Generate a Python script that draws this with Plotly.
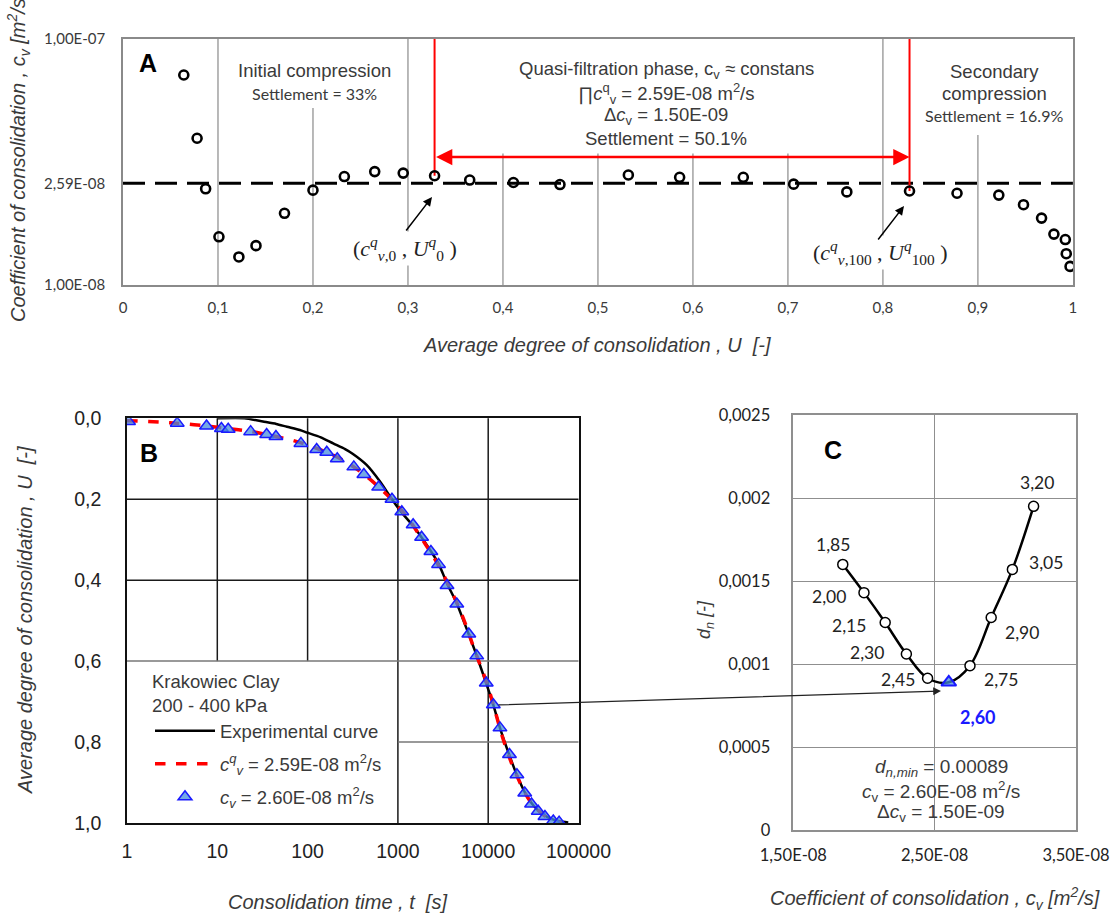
import math
import plotly.graph_objects as go

# ---------------- data ----------------
# Panel A: coefficient of consolidation vs average degree of consolidation
U_a = [0.064, 0.078, 0.087, 0.101, 0.122, 0.140, 0.170, 0.200, 0.233, 0.265, 0.295,
       0.328, 0.365, 0.411, 0.460, 0.532, 0.586, 0.653, 0.706, 0.762, 0.828, 0.878,
       0.922, 0.948, 0.967, 0.980, 0.992, 0.993, 0.997]
cv_a = [7.14e-8, 3.95e-8, 2.46e-8, 1.57e-8, 1.30e-8, 1.445e-8, 1.956e-8, 2.43e-8, 2.76e-8,
        2.89e-8, 2.85e-8, 2.78e-8, 2.67e-8, 2.61e-8, 2.56e-8, 2.80e-8, 2.74e-8, 2.74e-8,
        2.57e-8, 2.39e-8, 2.41e-8, 2.36e-8, 2.32e-8, 2.12e-8, 1.87e-8, 1.61e-8, 1.53e-8,
        1.34e-8, 1.19e-8]
cv_q = 2.59e-8
idx_q0 = 11     # (c_v,0 ; U_0)
idx_q100 = 20   # (c_v,100 ; U_100)
a_xticks = [0, 0.1, 0.2, 0.3, 0.4, 0.5, 0.6, 0.7, 0.8, 0.9, 1]
a_xticklabels = ["0", "0,1", "0,2", "0,3", "0,4", "0,5", "0,6", "0,7", "0,8", "0,9", "1"]
a_yticks = [1e-8, 2.59e-8, 1e-7]
a_yticklabels = ["1,00E-08", "2,59E-08", "1,00E-07"]

# Panel B: consolidation curves
t_exp = [10, 20, 32, 45, 59, 82, 98, 140, 192, 260, 318, 450, 634, 860, 1100, 1500,
         2000, 2800, 3500, 4500, 6000, 7500, 9500, 11400, 13500, 17000, 21000, 26000,
         32000, 40000, 50000, 62000, 77000]
U_exp = [0.0, 0.0, 0.008, 0.014, 0.021, 0.029, 0.035, 0.047, 0.062, 0.076, 0.088, 0.115,
         0.156, 0.200, 0.233, 0.268, 0.307, 0.358, 0.408, 0.458, 0.530, 0.588, 0.655, 0.708,
         0.765, 0.830, 0.884, 0.928, 0.958, 0.978, 0.990, 0.996, 0.999]
t_theo = [1, 3, 10, 30, 100, 300, 1000, 2000, 3000, 5000, 7000, 10000, 15000, 20000,
          30000, 50000, 65000]
U_theo = [0.006, 0.011, 0.022, 0.037, 0.066, 0.115, 0.217, 0.31, 0.375, 0.48, 0.57, 0.665,
          0.80, 0.875, 0.95, 0.993, 0.999]
t_tri = [1.04, 3.6, 7.6, 11.1, 13.2, 23.4, 35.2, 44.6, 84.3, 126, 163, 213, 325, 420, 612,
         860, 1105, 1475, 1830, 2320, 2820, 3500, 4490, 6100, 7470, 9520, 11400, 13500,
         17200, 20800, 25400, 30200, 35800, 42500, 52600, 61000]
U_tri = [0.008, 0.012, 0.019, 0.025, 0.027, 0.033, 0.040, 0.045, 0.062, 0.077, 0.084, 0.100,
         0.120, 0.139, 0.170, 0.200, 0.231, 0.263, 0.294, 0.329, 0.361, 0.413, 0.459, 0.533,
         0.587, 0.654, 0.708, 0.765, 0.831, 0.881, 0.926, 0.953, 0.971, 0.984, 0.995, 0.998]
b_xticks = [1, 10, 100, 1000, 10000, 100000]
b_xticklabels = ["1", "10", "100", "1000", "10000", "100000"]
b_yticks = [0, 0.2, 0.4, 0.6, 0.8, 1.0]
b_yticklabels = ["0,0", "0,2", "0,4", "0,6", "0,8", "1,0"]

# Panel C: d_n vs c_v
cv_c = [1.85, 2.00, 2.15, 2.30, 2.45, 2.60, 2.75, 2.90, 3.05, 3.20]   # x 1E-08 m2/s
dn_c = [0.00160, 0.00143, 0.00125, 0.00106, 0.000914, 0.00089, 0.00099, 0.00128,
        0.00157, 0.00195]
cv_c_labels = ["1,85", "2,00", "2,15", "2,30", "2,45", "2,60", "2,75", "2,90", "3,05", "3,20"]
best_idx = 5
c_xticks = [1.5e-8, 2.5e-8, 3.5e-8]
c_xticklabels = ["1,50E-08", "2,50E-08", "3,50E-08"]
c_yticks = [0, 0.0005, 0.001, 0.0015, 0.002, 0.0025]
c_yticklabels = ["0", "0,0005", "0,001", "0,0015", "0,002", "0,0025"]

# label offsets (pixels) for panel C labels
c_lab_dx = [-10, -35, -36, -39, -30, 29, 31, 31, 34, 3]
c_lab_dy = [-20, 4, 3, -2, 1, 35, 14, 15, -7, -24]

# ---------------- layout helpers ----------------
W, H = 1111, 913
def px(x):
    return x / W
def py(y):
    return 1 - y / H

ARIAL = "Liberation Sans, Arial, sans-serif"
CALI = "Lato, Liberation Sans, sans-serif"
SERIF = "Liberation Serif, Times New Roman, serif"
TXT = "#3a3a3a"

def ptext(text, x, y, size, family=ARIAL, color=TXT, **kw):
    d = dict(text=text, x=px(x), y=py(y), xref="paper", yref="paper", showarrow=False,
             xanchor="center", yanchor="middle",
             font=dict(family=family, size=size, color=color))
    d.update(kw)
    return d

fig = go.Figure()

# ---------- Panel A ----------
fig.add_trace(go.Scatter(x=[0, 1], y=[cv_q, cv_q], mode="lines", xaxis="x", yaxis="y",
                         line=dict(color="black", width=3, dash="22px,10px"),
                         showlegend=False, hoverinfo="skip"))
for i in (idx_q0, idx_q100):
    fig.add_trace(go.Scatter(x=[U_a[i], U_a[i]], y=[cv_a[i], 1e-7], mode="lines",
                             xaxis="x", yaxis="y", line=dict(color="#ff0000", width=2),
                             showlegend=False, hoverinfo="skip"))
fig.add_trace(go.Scatter(x=U_a, y=cv_a, mode="markers", xaxis="x", yaxis="y",
                         marker=dict(symbol="circle-open", size=9, color="black",
                                     line=dict(width=2.6, color="black")),
                         showlegend=False))

# ---------- Panel B ----------
fig.add_trace(go.Scatter(x=t_exp, y=U_exp, mode="lines", xaxis="x2", yaxis="y2",
                         name="Experimental curve", legendgroup="g1",
                         line=dict(color="black", width=2.5, shape="spline", smoothing=0.6)))
fig.add_trace(go.Scatter(x=t_theo, y=U_theo, mode="lines", xaxis="x2", yaxis="y2",
                         name="<i>c</i><sup><i>q</i></sup><sub><i>v</i></sub> = 2.59E-08 m<sup>2</sup>/s",
                         legendgroup="g2", line=dict(color="#ff0000", width=3.5, dash="dash",
                                                     shape="spline")))
fig.add_trace(go.Scatter(x=t_tri, y=U_tri, mode="markers", xaxis="x2", yaxis="y2",
                         name="<i>c</i><sub><i>v</i></sub> = 2.60E-08 m<sup>2</sup>/s",
                         legendgroup="g3",
                         marker=dict(symbol="triangle-up", size=12, color="rgba(70,140,220,0.75)",
                                     line=dict(color="#1a1aff", width=1.5))))

# ---------- Panel C ----------
cv_c_abs = [v * 1e-8 for v in cv_c]
fig.add_trace(go.Scatter(x=cv_c_abs, y=dn_c, mode="lines", xaxis="x3", yaxis="y3",
                         line=dict(color="black", width=2.5, shape="spline", smoothing=1),
                         showlegend=False, hoverinfo="skip"))
circ_x = [v for i, v in enumerate(cv_c_abs) if i != best_idx]
circ_y = [v for i, v in enumerate(dn_c) if i != best_idx]
fig.add_trace(go.Scatter(x=circ_x, y=circ_y, mode="markers", xaxis="x3", yaxis="y3",
                         marker=dict(symbol="circle", size=10, color="white",
                                     line=dict(color="black", width=1.5)),
                         showlegend=False))
fig.add_trace(go.Scatter(x=[cv_c_abs[best_idx]], y=[dn_c[best_idx]], mode="markers",
                         xaxis="x3", yaxis="y3",
                         marker=dict(symbol="triangle-up", size=13, color="rgba(70,140,220,0.75)",
                                     line=dict(color="#1a1aff", width=2)),
                         showlegend=False))

shapes = []
# Panel A vertical grid lines (partially hidden behind text blocks)
grid_top_a = {0.2: 0.72, 0.4: 0.535, 0.5: 0.535, 0.6: 0.535, 0.7: 0.535, 0.9: 0.61}
for u in a_xticks[1:-1]:
    shapes.append(dict(type="line", xref="x", yref="y domain", x0=u, x1=u, y0=0,
                       y1=grid_top_a.get(u, 1), line=dict(color="#8a8a8a", width=1.2),
                       layer="below"))
# Panel B grid lines (legend area left clear)
for t in b_xticks[1:-1]:
    f = math.log10(t) / 5
    y0 = 0.4 if t < 1000 else 0
    shapes.append(dict(type="line", xref="x2 domain", yref="y2 domain", x0=f, x1=f,
                       y0=y0, y1=1, line=dict(color="#1a1a1a", width=1.5), layer="below"))
for u in b_yticks[1:-1]:
    f = 1 - u
    x0 = 0.6 if u > 0.6 else 0
    col = "#1a1a1a" if u < 0.6 else "#777777"
    shapes.append(dict(type="line", xref="x2 domain", yref="y2 domain", x0=x0, x1=1,
                       y0=f, y1=f, line=dict(color=col, width=1.5), layer="below"))

ann = []
# panel letters
for letter, (lx, ly) in {"A": (148, 63), "B": (149, 453), "C": (833, 450)}.items():
    ann.append(ptext("<b>%s</b>" % letter, lx, ly, 25, color="black"))

# Panel A texts
ann.append(ptext("Initial compression", 314, 71, 18.5))
ann.append(ptext("Settlement = 33%", 314, 94, 16, family=CALI))
quasi = ["Quasi-filtration phase, c<sub>v</sub> \u2248 constans",
         "<i>\u220f</i><i>c</i><sup>q</sup><sub>v</sub> = 2.59E-08 m<sup>2</sup>/s",
         "\u0394<i>c</i><sub>v</sub> = 1.50E-09",
         "Settlement = 50.1%"]
for k, line in enumerate(quasi):
    ann.append(ptext(line, 666, [70, 94, 116, 138][k], 18.5))
ann.append(ptext("Secondary", 995, 72, 18.5))
ann.append(ptext("compression", 995, 93, 18.5))
ann.append(ptext("Settlement = 16.9%", 994, 115, 16, family=CALI))
# red double arrow
ann.append(dict(text="", x=U_a[idx_q100], y=py(157), xref="x", yref="paper",
                ax=U_a[idx_q0], ay=0, axref="x", ayref="pixel",
                showarrow=True, arrowside="end+start", arrowhead=2, arrowsize=1.3,
                arrowwidth=2.5, arrowcolor="#ff0000", standoff=0, startstandoff=0))
# math labels with arrows
ann.append(ptext("(<i>c</i><sup><i>q</i></sup><sub><i>v</i>,0</sub> , <i>U</i><sup><i>q</i></sup><sub>0</sub> )",
                 405, 249, 22, family=SERIF, color="#222", bgcolor="white"))
ann.append(ptext("(<i>c</i><sup><i>q</i></sup><sub><i>v</i>,100</sub> , <i>U</i><sup><i>q</i></sup><sub>100</sub> )",
                 880, 252, 22, family=SERIF, color="#222", bgcolor="white"))
ann.append(dict(text="", x=px(432), y=py(197), xref="paper", yref="paper", ax=-27, ay=35,
                showarrow=True, arrowhead=2, arrowsize=1.2, arrowwidth=1.5, arrowcolor="black"))
ann.append(dict(text="", x=px(904), y=py(206), xref="paper", yref="paper", ax=-27, ay=35,
                showarrow=True, arrowhead=2, arrowsize=1.2, arrowwidth=1.5, arrowcolor="black"))

# Panel C texts
for i, lab in enumerate(cv_c_labels):
    if i == best_idx:
        f = dict(family=CALI, size=18, color="#1a1aff")
        lab = "<b>%s</b>" % lab
    else:
        f = dict(family=CALI, size=17.5, color="#222")
    ann.append(dict(text=lab, x=cv_c_abs[i], y=dn_c[i], xref="x3", yref="y3",
                    xanchor="center", yanchor="middle",
                    xshift=c_lab_dx[i], yshift=-c_lab_dy[i], showarrow=False, font=f))
cinfo = ["<i>d</i><sub><i>n,min</i></sub> = 0.00089",
         "<i>c</i><sub>v</sub> = 2.60E-08 m<sup>2</sup>/s",
         "\u0394<i>c</i><sub>v</sub> = 1.50E-09"]
for k, line in enumerate(cinfo):
    ann.append(ptext(line, 941, [768, 791, 813][k], 19))

# arrow B -> C
ann.append(dict(text="", x=px(941), y=py(691), xref="paper", yref="paper",
                ax=497 - 941, ay=705 - 691,
                showarrow=True, arrowhead=2, arrowsize=1.3, arrowwidth=1.2, arrowcolor="#222",
                standoff=0))

# axis titles
ann.append(ptext("<i>Coefficient of consolidation , c<sub>v</sub> [m<sup>2</sup>/s]</i>",
                 19, 157, 20, textangle=-90))
ann.append(ptext("<i>Average degree of consolidation , U  [-]</i>", 597, 345, 20))
ann.append(ptext("<i>Average degree of consolidation , U  [-]</i>", 25, 620, 20, textangle=-90))
ann.append(ptext("<i>Consolidation time , t  [s]</i>", 337, 902, 20))
ann.append(ptext("<i>Coefficient of consolidation , c<sub>v</sub> [m<sup>2</sup>/s]</i>",
                 935, 898, 20))
ann.append(ptext("<i>d<sub>n</sub> [-]</i>", 705, 620, 18, textangle=-90))

fig.update_layout(
    width=W, height=H, margin=dict(l=0, r=0, t=0, b=0, autoexpand=False),
    paper_bgcolor="white", plot_bgcolor="white",
    separators=",.",
    shapes=shapes, annotations=ann,
    legend=dict(x=px(150), y=py(664), xanchor="left", yanchor="top",
                bgcolor="rgba(255,255,255,0)", traceorder="grouped", tracegroupgap=6,
                itemwidth=60,
                title=dict(text="Krakowiec Clay<br>200 - 400 kPa",
                           font=dict(family=ARIAL, size=18.5, color=TXT)),
                font=dict(family=ARIAL, size=18.5, color=TXT)),
    xaxis=dict(domain=[px(123), px(1073)], range=[0, 1.0001], anchor="y", automargin=False,
               tickvals=a_xticks, ticktext=a_xticklabels, showgrid=False, zeroline=False,
               showline=True, linecolor="#8a8a8a", linewidth=1.5, mirror=True,
               ticks="", ticklabelstandoff=8, tickfont=dict(family=CALI, size=15, color=TXT)),
    yaxis=dict(domain=[py(285), py(39)], type="log", range=[-8.0001, -6.9999], anchor="x",
               automargin=False,
               tickvals=a_yticks, ticktext=a_yticklabels, showgrid=False, zeroline=False,
               showline=True, linecolor="#8a8a8a", linewidth=1.5, mirror=True,
               ticks="", ticklabelstandoff=13, tickfont=dict(family=CALI, size=15, color=TXT)),
    xaxis2=dict(domain=[px(127), px(578.5)], type="log", range=[0, 5.0001], anchor="y2",
                automargin=False,
                tickvals=b_xticks, ticktext=b_xticklabels, showgrid=False, zeroline=False,
                showline=True, linecolor="#111", linewidth=1.5, mirror=True,
                ticks="", ticklabelstandoff=10, tickfont=dict(family=ARIAL, size=19.5, color="#222")),
    yaxis2=dict(domain=[py(823), py(418.3)], range=[1.0001, 0], anchor="x2", automargin=False,
                tickvals=b_yticks, ticktext=b_yticklabels, showgrid=False, zeroline=False,
                showline=True, linecolor="#111", linewidth=1.5, mirror=True,
                ticks="", ticklabelstandoff=20, tickfont=dict(family=ARIAL, size=19.5, color="#222")),
    xaxis3=dict(domain=[px(793.3), px(1076)], range=[1.49999e-8, 3.50001e-8], anchor="y3",
                automargin=False, ticklabeloverflow="allow",
                tickvals=c_xticks, ticktext=c_xticklabels, showgrid=True, gridcolor="#8f8f8f",
                gridwidth=1, zeroline=False, showline=True, linecolor="#8f8f8f", linewidth=1.5,
                mirror=True, ticks="", ticklabelstandoff=9,
                tickfont=dict(family=CALI, size=16.5, color="#222")),
    yaxis3=dict(domain=[py(830), py(415)], range=[0, 0.0025001], anchor="x3", automargin=False,
                tickvals=c_yticks, ticktext=c_yticklabels, showgrid=True, gridcolor="#8f8f8f",
                gridwidth=1, zeroline=False, showline=True, linecolor="#8f8f8f", linewidth=1.5,
                mirror=True, ticks="", ticklabelstandoff=18,
                tickfont=dict(family=CALI, size=16.5, color="#222")),
)

fig.write_html("out.html")
